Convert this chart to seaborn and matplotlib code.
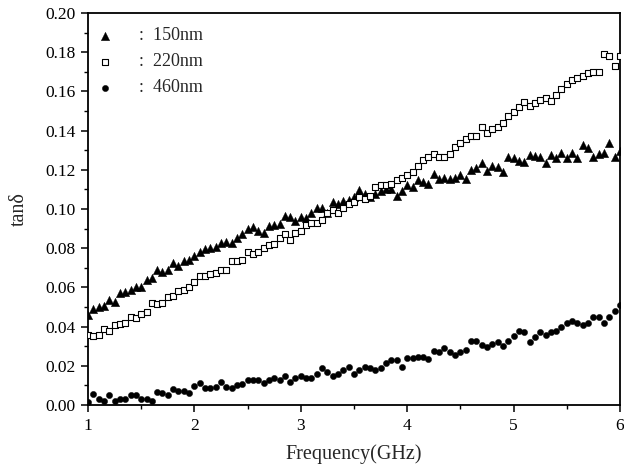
import numpy as np
import pandas as pd
import matplotlib
matplotlib.use("Agg")
import matplotlib.pyplot as plt
import seaborn as sns
from matplotlib.ticker import MultipleLocator

freq = np.linspace(1.0, 6.0, 101)

tan_150 = [0.046, 0.049, 0.050, 0.0505, 0.0535, 0.0525, 0.057, 0.0577, 0.0587, 0.060,
           0.060, 0.064, 0.065, 0.069, 0.068, 0.069, 0.0725, 0.071, 0.0735, 0.074,
           0.076, 0.078, 0.0795, 0.080, 0.0806, 0.0827, 0.083, 0.0826, 0.085, 0.087,
           0.090, 0.091, 0.089, 0.088, 0.0913, 0.092, 0.0923, 0.0964, 0.096, 0.094,
           0.096, 0.0954, 0.098, 0.1005, 0.1005, 0.098, 0.1036, 0.1026, 0.104, 0.1046,
           0.106, 0.1097, 0.1077, 0.106, 0.1077, 0.109, 0.110, 0.110, 0.1066, 0.109,
           0.112, 0.111, 0.1148, 0.1138, 0.1128, 0.118, 0.1153, 0.1158, 0.1153, 0.1158,
           0.1173, 0.1153, 0.120, 0.121, 0.1235, 0.1194, 0.122, 0.1214, 0.119, 0.1265,
           0.126, 0.1245, 0.124, 0.1275, 0.127, 0.1265, 0.1235, 0.1275, 0.126, 0.1286,
           0.126, 0.1286, 0.126, 0.1327, 0.131, 0.1265, 0.128, 0.1286, 0.1337, 0.1265,
           0.1296]

tan_220 = [0.0357, 0.0352, 0.0357, 0.039, 0.038, 0.041, 0.0413, 0.042, 0.045, 0.0444,
           0.0464, 0.0475, 0.052, 0.0515, 0.052, 0.055, 0.0556, 0.058, 0.0587, 0.060,
           0.063, 0.066, 0.066, 0.0668, 0.0673, 0.069, 0.069, 0.0735, 0.0735, 0.074,
           0.078, 0.077, 0.078, 0.080, 0.0816, 0.082, 0.085, 0.087, 0.084, 0.0877,
           0.089, 0.092, 0.093, 0.093, 0.0944, 0.098, 0.0995, 0.098, 0.1005, 0.1026,
           0.1036, 0.106, 0.105, 0.1066, 0.111, 0.112, 0.112, 0.113, 0.1148, 0.1158,
           0.1173, 0.119, 0.122, 0.125, 0.1265, 0.128, 0.1265, 0.1265, 0.128, 0.1316,
           0.1337, 0.1357, 0.137, 0.137, 0.1418, 0.139, 0.141, 0.1418, 0.1439, 0.1475,
           0.1495, 0.152, 0.1546, 0.1526, 0.154, 0.1556, 0.1566, 0.155, 0.158, 0.161,
           0.164, 0.166, 0.1668, 0.168, 0.1694, 0.170, 0.170, 0.179, 0.178, 0.173,
           0.178]

tan_460 = [0.0015, 0.0056, 0.003, 0.002, 0.005, 0.002, 0.003, 0.003, 0.005, 0.005,
           0.003, 0.003, 0.002, 0.0066, 0.006, 0.005, 0.008, 0.007, 0.007, 0.006,
           0.0097, 0.011, 0.0087, 0.0087, 0.009, 0.0117, 0.009, 0.0087, 0.010, 0.0107,
           0.013, 0.013, 0.013, 0.011, 0.0127, 0.0137, 0.0127, 0.015, 0.0117, 0.014,
           0.015, 0.014, 0.014, 0.016, 0.019, 0.017, 0.015, 0.016, 0.018, 0.0195,
           0.016, 0.018, 0.0195, 0.019, 0.018, 0.019, 0.0215, 0.023, 0.023, 0.0195,
           0.024, 0.024, 0.0245, 0.0245, 0.0235, 0.0276, 0.027, 0.029, 0.027, 0.0255,
           0.027, 0.028, 0.0327, 0.0327, 0.0306, 0.0296, 0.031, 0.032, 0.030, 0.0327,
           0.035, 0.0378, 0.037, 0.032, 0.0347, 0.037, 0.0357, 0.037, 0.0378, 0.040,
           0.042, 0.043, 0.042, 0.041, 0.042, 0.045, 0.045, 0.042, 0.045, 0.048,
           0.051]

labels = [":  150nm", ":  220nm", ":  460nm"]
x_ticks = [1, 2, 3, 4, 5, 6]
y_ticks = [0.00, 0.02, 0.04, 0.06, 0.08, 0.10, 0.12, 0.14, 0.16, 0.18, 0.20]

sns.set_theme(style="ticks")
plt.rcParams['font.family'] = ['Liberation Serif', 'DejaVu Serif']

fig = plt.figure(figsize=(6.24, 4.66), dpi=100)
ax = fig.add_axes([88/624, 1-405/466, (620-88)/624, (405-13)/466])

sns.scatterplot(x=freq, y=tan_150, ax=ax, marker='^', s=36, color='black',
                edgecolor='black', linewidth=0.3, label=labels[0], zorder=3)
sns.scatterplot(x=freq, y=tan_220, ax=ax, marker='s', s=14, facecolor='white',
                edgecolor='black', linewidth=0.8, label=labels[1], zorder=3)
sns.scatterplot(x=freq, y=tan_460, ax=ax, marker='o', s=20, color='black',
                edgecolor='black', linewidth=0.3, label=labels[2], zorder=3)

ax.set_xlim(1, 6)
ax.set_ylim(0, 0.20)
ax.set_xticks(x_ticks)
ax.set_xticklabels([str(t) for t in x_ticks])
ax.set_yticks(y_ticks)
ax.set_yticklabels([f"{t:.2f}" for t in y_ticks])
ax.xaxis.set_minor_locator(MultipleLocator(0.5))
ax.yaxis.set_minor_locator(MultipleLocator(0.01))
ax.tick_params(which='major', direction='out', length=5, width=1.1, labelsize=12.5,
               colors='black', pad=4)
ax.tick_params(which='minor', direction='out', length=3, width=1.0, colors='black')
for sp in ax.spines.values():
    sp.set_visible(True)
    sp.set_linewidth(1.3)
    sp.set_color('black')

ax.set_xlabel("Frequency(GHz)", fontsize=14.5, labelpad=8)
ax.set_ylabel("tanδ", fontsize=14.5, labelpad=12)

leg = ax.legend(loc='upper left', bbox_to_anchor=(-0.012, 1.0), frameon=False,
                fontsize=13, handlelength=1.0, handletextpad=1.4, labelspacing=0.5,
                borderaxespad=0.3, borderpad=0.5, markerscale=1.0)

fig.savefig("out.png", dpi=100)
